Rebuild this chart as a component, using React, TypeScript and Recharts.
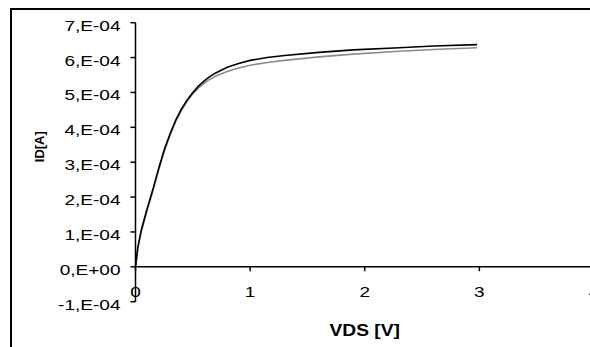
import { LineChart, Line, XAxis, YAxis, ReferenceLine, Label } from "recharts";

const vds = [0, 0.02, 0.05, 0.1, 0.15, 0.2, 0.25, 0.3, 0.35, 0.4, 0.45, 0.5, 0.55, 0.6, 0.65, 0.7, 0.8, 0.9, 1.0, 1.15, 1.3, 1.6, 1.9, 2.3, 2.6, 2.98];
const idBlack = [0, 0.55e-4, 1.05e-4, 1.65e-4, 2.2e-4, 2.8e-4, 3.35e-4, 3.8e-4, 4.2e-4, 4.52e-4, 4.78e-4, 5.0e-4, 5.18e-4, 5.33e-4, 5.46e-4, 5.56e-4, 5.72e-4, 5.83e-4, 5.92e-4, 6.0e-4, 6.06e-4, 6.15e-4, 6.22e-4, 6.28e-4, 6.33e-4, 6.37e-4];
const idGray = [0, 0.52e-4, 1.0e-4, 1.6e-4, 2.15e-4, 2.75e-4, 3.3e-4, 3.76e-4, 4.16e-4, 4.48e-4, 4.74e-4, 4.96e-4, 5.13e-4, 5.27e-4, 5.38e-4, 5.47e-4, 5.6e-4, 5.7e-4, 5.78e-4, 5.86e-4, 5.92e-4, 6.02e-4, 6.1e-4, 6.18e-4, 6.23e-4, 6.28e-4];

const xTicks = [0, 1, 2, 3, 4];
const yTicks = [-1e-4, 0, 1e-4, 2e-4, 3e-4, 4e-4, 5e-4, 6e-4, 7e-4];
const yTickLabels = ["-1,E-04", "0,E+00", "1,E-04", "2,E-04", "3,E-04", "4,E-04", "5,E-04", "6,E-04", "7,E-04"];

const data = vds.map((v, i) => ({ vds: v, black: idBlack[i], gray: idGray[i] }));

const FONT = "'Liberation Sans', Arial, sans-serif";
// distance from plot bottom (-1E-04) up to the zero line, where Excel draws the x axis
const ZERO_SHIFT = 35.5;

const YTick = (props: any) => {
  const { x, y, payload } = props;
  const idx = yTicks.findIndex((t) => Math.abs(t - payload.value) < 1e-9);
  return (
    <text
      x={0}
      y={0}
      transform={`translate(${x},${y + 8}) scale(1.27,1)`}
      textAnchor="end"
      fontSize={15}
      fontFamily={FONT}
      fill="#000"
    >
      {yTickLabels[idx]}
    </text>
  );
};

const XTick = (props: any) => {
  const { x, y, payload } = props;
  const y0 = y - ZERO_SHIFT;
  return (
    <g>
      <line x1={x} x2={x} y1={y0} y2={y0 + 5} stroke="#000" strokeWidth={1.5} />
      <text
        x={0}
        y={0}
        transform={`translate(${x},${y0 + 31}) scale(1.27,1)`}
        textAnchor="middle"
        fontSize={15}
        fontFamily={FONT}
        fill="#000"
      >
        {payload.value}
      </text>
    </g>
  );
};

const XTitle = (props: any) => {
  const vb = props.viewBox;
  return (
    <text
      x={0}
      y={0}
      transform={`translate(${vb.x + vb.width / 2},${vb.y + 34.5}) scale(1.2,1)`}
      textAnchor="middle"
      fontSize={16}
      fontWeight="bold"
      fontFamily={FONT}
      fill="#000"
    >
      VDS [V]
    </text>
  );
};

const YTitle = (props: any) => {
  const vb = props.viewBox;
  return (
    <text
      x={0}
      y={0}
      dy={4.5}
      transform={`translate(${vb.x + 39},${vb.y + 124}) rotate(-90)`}
      textAnchor="middle"
      fontSize={13}
      fontWeight="bold"
      fontFamily={FONT}
      fill="#000"
    >
      ID[A]
    </text>
  );
};

export default function App() {
  return (
    <div
      style={{
        position: "fixed",
        left: 0,
        top: 0,
        width: 590,
        height: 347,
        overflow: "hidden",
        background: "#fff",
      }}
    >
      <div
        style={{
          position: "absolute",
          left: 10,
          top: 8,
          width: 700,
          height: 400,
          border: "2px solid #000",
        }}
      />
      <div style={{ position: "absolute", left: 0, top: 0 }}>
        <LineChart
          width={620}
          height={347}
          data={data}
          margin={{ top: 22.7, right: 26, bottom: 15.3, left: 0 }}
        >
          <XAxis
            dataKey="vds"
            type="number"
            domain={[0, 4]}
            ticks={xTicks}
            interval={0}
            axisLine={false}
            tickLine={false}
            tickSize={0}
            tickMargin={0}
            height={30}
            tick={<XTick />}
          >
            <Label content={<XTitle />} />
          </XAxis>
          <YAxis
            type="number"
            domain={[-1e-4, 7e-4]}
            ticks={yTicks}
            interval={0}
            width={135.5}
            stroke="#000"
            axisLine={{ stroke: "#000", strokeWidth: 1.5 }}
            tickLine={{ stroke: "#000", strokeWidth: 1.5 }}
            tickSize={5}
            tickMargin={10}
            tick={<YTick />}
          >
            <Label content={<YTitle />} />
          </YAxis>
          <ReferenceLine y={0} stroke="#000" strokeWidth={1.5} />
          <Line
            dataKey="gray"
            stroke="#8c8c8c"
            strokeWidth={1.6}
            dot={false}
            type="linear"
            isAnimationActive={false}
          />
          <Line
            dataKey="black"
            stroke="#000"
            strokeWidth={1.6}
            dot={false}
            type="linear"
            isAnimationActive={false}
          />
        </LineChart>
      </div>
    </div>
  );
}
